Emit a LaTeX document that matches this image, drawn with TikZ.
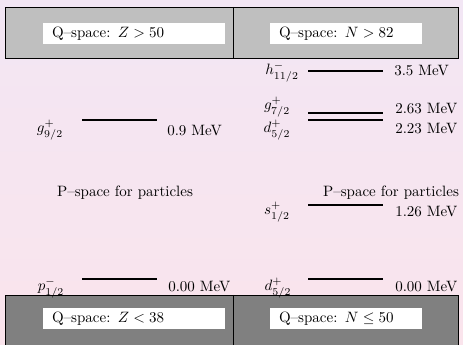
\documentclass[tikz,border=0pt]{standalone}
\usepackage{amsmath}
\usetikzlibrary{positioning}
\definecolor{bgtop}{RGB}{242,230,244}
\definecolor{bgbottom}{RGB}{250,228,236}

\begin{document}
\begin{tikzpicture}[x=0.6667pt, y=-0.6667pt,
    level/.style={line width=0.9pt},
    qspace/.style={draw, line width=0.5pt},
    qtext/.style={fill=white, inner xsep=6pt, inner ysep=0pt, align=left, minimum height=14pt},
    spin/.style={inner sep=0pt},
    energy/.style={anchor=west, inner sep=0pt}
]
\useasboundingbox (0,0) rectangle (463,345);
\shade[top color=bgtop, bottom color=bgbottom] (0,0) rectangle (463,345);

% Q-space boxes
\draw[qspace, fill=gray!50] (5,7) rectangle (458,58);
\draw[qspace] (233,7) -- (233,58);
\draw[qspace, fill=gray] (5,295) rectangle (458,352);
\draw[qspace] (233,295) -- (233,352);

\node[qtext, text width=109.3pt] (qZup) at (134,34) {Q--space: $Z>50$};
\node[qtext, text width=89.3pt] (qNup) at (346,34) {Q--space: $N>82$};
\node[qtext, text width=109.3pt] (qZdown) at (134,319) {Q--space: $Z<38$};
\node[qtext, text width=89.3pt] (qNdown) at (346,319) {Q--space: $N\leq 50$};

% protons
\draw[level] (82,120) -- (157,120);
\draw[level] (82,279) -- (157,279);
\node[spin] (g9) at (50,130) {$g^{+}_{9/2}$};
\node[spin] (p1) at (51,288) {$p^{-}_{1/2}$};
\node[energy] (e09) at (167,131) {0.9 MeV};
\node[energy] (e00p) at (168,287) {0.00 MeV};
\node (pspaceZ) at (125,193) {P--space for particles};

% neutrons
\draw[level] (308,71) -- (383,71);
\draw[level] (308,113) -- (383,113);
\draw[level] (308,120) -- (383,120);
\draw[level] (308,205) -- (383,205);
\draw[level] (308,279) -- (383,279);
\node[spin] (h11) at (282,72) {$h^{-}_{11/2}$};
\node[spin] (g7) at (277,107) {$g^{+}_{7/2}$};
\node[spin] (d5) at (277,130) {$d^{+}_{5/2}$};
\node[spin] (s1) at (277,212) {$s^{+}_{1/2}$};
\node[spin] (d5b) at (278,288) {$d^{+}_{5/2}$};
\node[energy] (e35) at (394,71) {3.5 MeV};
\node[energy] (e263) at (395,109) {2.63 MeV};
\node[energy] (e223) at (395,129) {2.23 MeV};
\node[energy] (e126) at (395,212) {1.26 MeV};
\node[energy] (e00n) at (395,287) {0.00 MeV};
\node (pspaceN) at (391,193) {P--space for particles};
\end{tikzpicture}
\end{document}
